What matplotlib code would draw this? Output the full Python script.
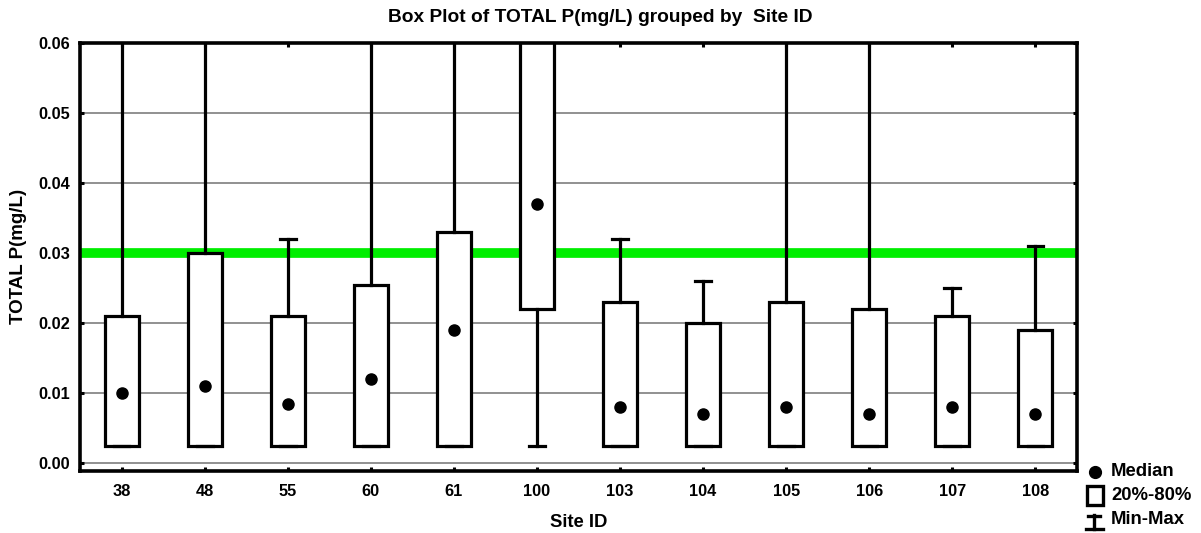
import matplotlib
matplotlib.use("Agg")
import matplotlib.pyplot as plt
from matplotlib.patches import Rectangle
from matplotlib.lines import Line2D

plt.rcParams['font.family'] = ['Liberation Sans', 'DejaVu Sans']
plt.rcParams['font.weight'] = 'bold'

sites = ['38', '48', '55', '60', '61', '100', '103', '104', '105', '106', '107', '108']
median = [0.010, 0.011, 0.0085, 0.012, 0.019, 0.037, 0.008, 0.007, 0.008, 0.007, 0.008, 0.007]
q20 = [0.0025, 0.0025, 0.0025, 0.0025, 0.0025, 0.022, 0.0025, 0.0025, 0.0025, 0.0025, 0.0025, 0.0025]
q80 = [0.021, 0.030, 0.021, 0.0255, 0.033, 0.075, 0.023, 0.020, 0.023, 0.022, 0.021, 0.019]
vmin = [0.0025, 0.0025, 0.0025, 0.0025, 0.0025, 0.0025, 0.0025, 0.0025, 0.0025, 0.0025, 0.0025, 0.0025]
vmax = [0.09, 0.08, 0.032, 0.10, 0.085, 0.12, 0.032, 0.026, 0.07, 0.08, 0.025, 0.031]
threshold = 0.03
yticks = [0.00, 0.01, 0.02, 0.03, 0.04, 0.05, 0.06]

fig = plt.figure(figsize=(12.01, 5.33), dpi=100)
ax = fig.add_axes([80/1201, 1 - 470.5/533, (1077-80)/1201, (470.5-43)/533])

positions = [i + 0.5 for i in range(len(sites))]
stats = []
for s, m, lo, hi, a, b in zip(sites, median, q20, q80, vmin, vmax):
    stats.append(dict(label=s, med=m, q1=lo, q3=hi, whislo=a, whishi=b, fliers=[]))

lw = 2.3
ax.bxp(stats, positions=positions, widths=0.41, capwidths=0.19, showfliers=False,
       patch_artist=True,
       boxprops=dict(facecolor='white', edgecolor='black', linewidth=lw),
       whiskerprops=dict(color='black', linewidth=lw),
       capprops=dict(color='black', linewidth=lw),
       medianprops=dict(linewidth=0), zorder=4)
ax.plot(positions, median, 'o', color='black', markersize=8, zorder=6)

ax.axhline(threshold, color='#00ee00', linewidth=7, zorder=2)

ax.set_xlim(0, len(sites))
ax.set_ylim(-0.001, 0.06)
ax.set_yticks(yticks)
ax.set_yticklabels([f'{v:.2f}' for v in yticks])
ax.set_xticks(positions)
ax.set_xticklabels(sites)
ax.yaxis.grid(True, color='#888888', linewidth=1.3, zorder=0)
ax.set_axisbelow(True)
ax.tick_params(direction='in', length=3, width=2.2, labelsize=11.8, pad=7,
               top=True, right=True)
ax.tick_params(axis='x', pad=9.5)
for lab in ax.get_xticklabels() + ax.get_yticklabels():
    lab.set_fontweight('bold')
for sp in ax.spines.values():
    sp.set_linewidth(2.6)
    sp.set_zorder(10)

ax.set_xlabel('Site ID', fontsize=13.3, fontweight='bold', labelpad=11)
ax.set_ylabel('TOTAL P(mg/L)', fontsize=13.5, fontweight='bold', labelpad=8)
fig.text(600/1201, 1 - 17/533, 'Box Plot of TOTAL P(mg/L) grouped by  Site ID',
         ha='center', va='center', fontsize=13.8, fontweight='bold')

# legend (outside, bottom right)
def fx(px):
    return px / 1201
def fy(py):
    return 1 - py / 533

fig.add_artist(Line2D([fx(1095)], [fy(472)], marker='o', color='black', markersize=8.5,
                      linestyle='none', transform=fig.transFigure))
fig.add_artist(Rectangle((fx(1087), fy(505)), 16/1201, 19/533, facecolor='white',
                         edgecolor='black', linewidth=2.4, transform=fig.transFigure))
fig.add_artist(Line2D([fx(1094), fx(1094)], [fy(515), fy(529)], color='black', linewidth=2.4,
                      transform=fig.transFigure))
fig.add_artist(Line2D([fx(1088), fx(1100)], [fy(515.5), fy(515.5)], color='black', linewidth=2.4,
                      transform=fig.transFigure))
fig.add_artist(Line2D([fx(1086), fx(1103)], [fy(528.5), fy(528.5)], color='black', linewidth=2.4,
                      transform=fig.transFigure))
for txt, py in [('Median', 471), ('20%-80%', 495), ('Min-Max', 519)]:
    fig.text(fx(1111), fy(py), txt, ha='left', va='center', fontsize=13.3, fontweight='bold')

fig.savefig('out.png', dpi=100)
